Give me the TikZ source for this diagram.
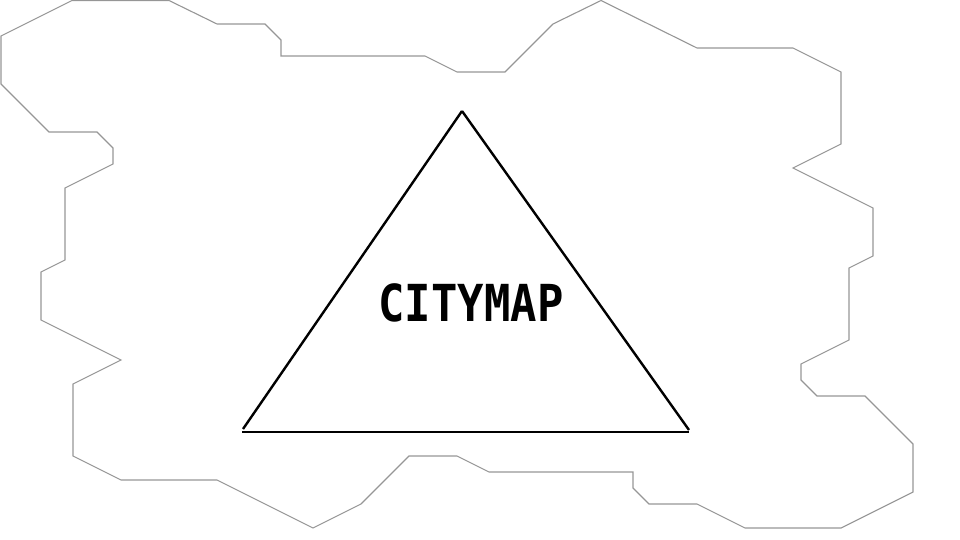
\documentclass[tikz,border=0pt]{standalone}
\usepackage{xcolor}
\usepackage{fontspec}
\newfontfamily\lcdfont[FakeStretch=0.86]{DejaVu Sans Mono}
\definecolor{mapborder}{HTML}{969696}
\definecolor{mapmark}{HTML}{000000}
\tikzset{
  border/.style={draw=mapborder, line width=1.1pt, line join=miter},
  mark line/.style={draw=mapmark, line width=2.4pt},
  title/.style={text=mapmark, font=\lcdfont\bfseries\fontsize{51}{51}\selectfont, inner sep=0pt},
}
\begin{document}
\begin{tikzpicture}[x=1pt,y=-1pt]
\useasboundingbox (0,0) rectangle (960,540);

\draw[border] (72,0.5) -- (169,0.5) -- (217,24) -- (265,24) -- (281,40) -- (281,56) -- (425,56)
  -- (457,72) -- (505,72) -- (553,24) -- (601,0.5) -- (697,48) -- (793,48) -- (841,72)
  -- (841,144) -- (793,168) -- (873,208) -- (873,256) -- (849,268) -- (849,340) -- (801,364)
  -- (801,380) -- (817,396) -- (865,396) -- (913,444) -- (913,492) -- (841,528) -- (745,528)
  -- (697,504) -- (649,504) -- (633,488) -- (633,472) -- (489,472) -- (457,456) -- (409,456)
  -- (361,504) -- (313,528) -- (217,480) -- (121,480) -- (73,456) -- (73,384) -- (121,360)
  -- (41,320) -- (41,272) -- (65,260) -- (65,188) -- (113,164) -- (113,148) -- (97,132)
  -- (49,132) -- (1,84) -- (1,36) -- cycle;

\coordinate (apex) at (462,111);
\coordinate (left) at (243,429);
\coordinate (right) at (689,430);
\coordinate (baseL) at (242,432);
\coordinate (baseR) at (689,432);
\draw[mark line] (apex) -- (left);
\draw[mark line] (apex) -- (right);
\draw[mark line] (baseL) -- (baseR);

\node[title] (name) at (471,303) {CITYMAP};
\end{tikzpicture}
\end{document}
